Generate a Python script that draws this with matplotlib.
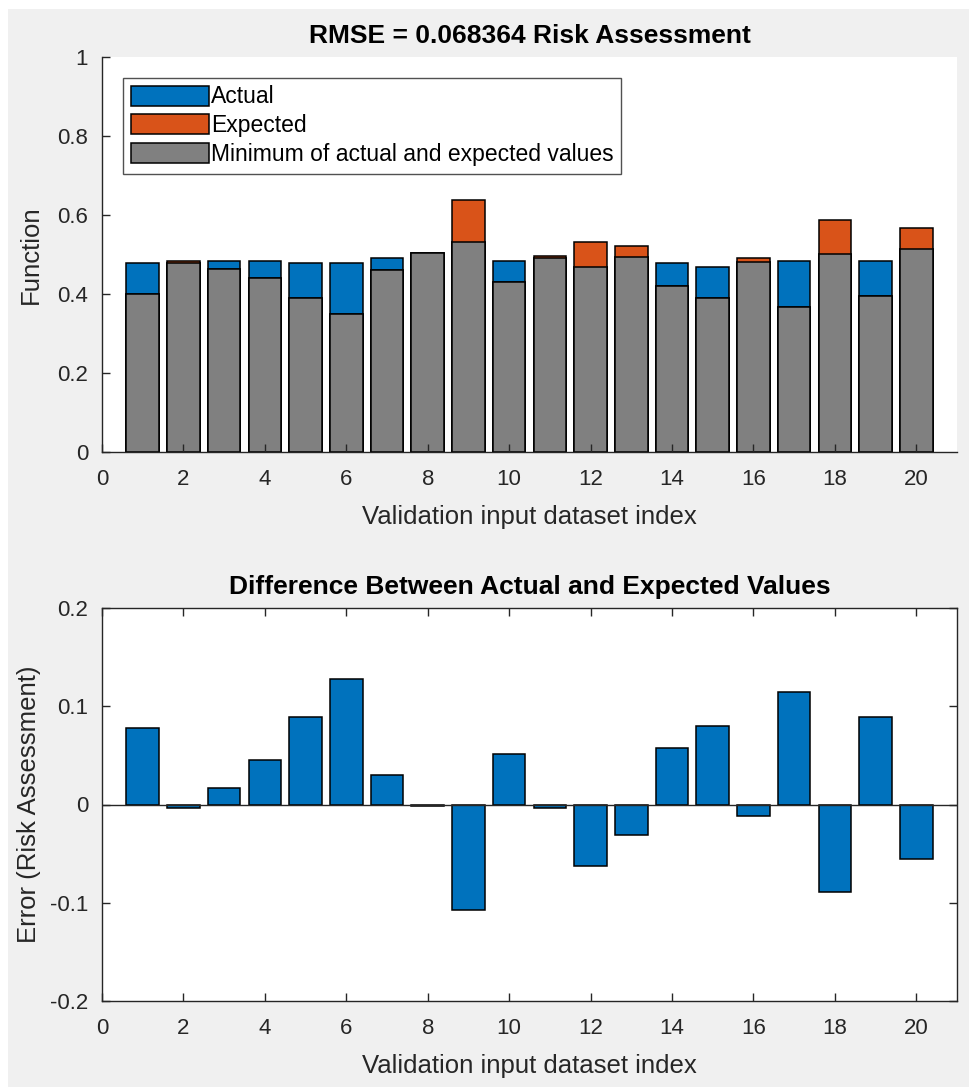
import matplotlib
matplotlib.use("Agg")
import matplotlib.pyplot as plt
from matplotlib.patches import Rectangle
import numpy as np

# ---- data ----
index = list(range(1, 21))
actual = [0.4775, 0.478, 0.4825, 0.4825, 0.4775, 0.4775, 0.491, 0.503, 0.532, 0.4825,
          0.492, 0.4675, 0.494, 0.4775, 0.468, 0.481, 0.4825, 0.500, 0.4825, 0.513]
expected = [0.399, 0.4825, 0.464, 0.440, 0.390, 0.349, 0.460, 0.505, 0.637, 0.431,
            0.495, 0.532, 0.5225, 0.4215, 0.391, 0.491, 0.3675, 0.587, 0.395, 0.5675]
errors = [0.0777, -0.0037, 0.0173, 0.0448, 0.0892, 0.1279, 0.0299, -0.0017, -0.1075, 0.0519,
          -0.0037, -0.0631, -0.0315, 0.0577, 0.0798, -0.0112, 0.1150, -0.0891, 0.0892, -0.0556]
minimum = [min(a, e) for a, e in zip(actual, expected)]

title_top = "RMSE = 0.068364 Risk Assessment"
title_bottom = "Difference Between Actual and Expected Values"
xlabel = "Validation input dataset index"
ylabel_top = "Function"
ylabel_bottom = "Error (Risk Assessment)"
legend_labels = ["Actual", "Expected", "Minimum of actual and expected values"]

BLUE = "#0072BD"
ORANGE = "#D95319"
GRAY = "#808080"
AX = "#262626"
BG = "#f0f0f0"

plt.rcParams["font.family"] = ["Liberation Sans", "DejaVu Sans"]

TICK_FS = 16
LABEL_FS = 18.5
TITLE_FS = 19
LEG_FS = 16.5

W, H = 970, 1087
fig = plt.figure(figsize=(W / 100, H / 100), dpi=100, facecolor="white")
fig.patches.append(Rectangle((8 / W, 0), 1 - 8 / W, 1 - 9 / H, transform=fig.transFigure,
                             facecolor=BG, edgecolor="none", zorder=-10))

def px_axes(left, top, right, bottom):
    return fig.add_axes([left / W, 1 - bottom / H, (right - left) / W, (bottom - top) / H])

def style(ax, box):
    for s in ["left", "bottom", "top", "right"]:
        ax.spines[s].set_color(AX)
        ax.spines[s].set_linewidth(1.0)
    if not box:
        ax.spines["top"].set_visible(False)
        ax.spines["right"].set_visible(False)
    ax.tick_params(direction="in", length=6, width=1.0, color=AX, labelcolor=AX,
                   labelsize=TICK_FS, top=box, right=box)
    ax.tick_params(axis="x", pad=12)
    ax.tick_params(axis="y", pad=10)
    ax.set_xlim(0, 21)
    ax.set_xticks(range(0, 21, 2))
    ax.set_xticklabels([str(v) for v in range(0, 21, 2)])
    ax.set_xlabel(xlabel, fontsize=LABEL_FS, color=AX, labelpad=11)

# ---- top axes ----
ax1 = px_axes(102, 57, 957, 452)
ax1.set_facecolor("white")
b1 = ax1.bar(index, actual, width=0.8, color=BLUE, edgecolor="black", linewidth=1.1)
b2 = ax1.bar(index, expected, width=0.8, color=ORANGE, edgecolor="black", linewidth=1.1)
b3 = ax1.bar(index, minimum, width=0.8, color=GRAY, edgecolor="black", linewidth=1.1)
ax1.set_ylim(0, 1)
yt = [0, 0.2, 0.4, 0.6, 0.8, 1]
ax1.set_yticks(yt)
ax1.set_yticklabels(["0", "0.2", "0.4", "0.6", "0.8", "1"])
style(ax1, box=False)
ax1.set_ylabel(ylabel_top, fontsize=LABEL_FS, color=AX, labelpad=10)
ax1.set_title(title_top, fontsize=TITLE_FS, fontweight="bold", color="black", pad=10)
leg = ax1.legend([b1, b2, b3], legend_labels, loc="upper left",
                 bbox_to_anchor=(0.0246, 0.947), borderaxespad=0, fontsize=LEG_FS,
                 fancybox=False, frameon=True, handlelength=3.4, handleheight=0.95,
                 handletextpad=0.12, labelspacing=0.25, borderpad=0.33)
leg.get_frame().set_edgecolor(AX)
leg.get_frame().set_linewidth(1.0)

# ---- bottom axes ----
ax2 = px_axes(102, 608, 957, 1001)
ax2.set_facecolor("white")
ax2.bar(index, errors, width=0.8, color=BLUE, edgecolor="black", linewidth=1.1, zorder=2)
ax2.axhline(0, color=AX, linewidth=1.0, zorder=3)
ax2.set_ylim(-0.2, 0.2)
ax2.set_yticks([-0.2, -0.1, 0, 0.1, 0.2])
ax2.set_yticklabels(["-0.2", "-0.1", "0", "0.1", "0.2"])
style(ax2, box=True)
ax2.set_ylabel(ylabel_bottom, fontsize=LABEL_FS, color=AX, labelpad=6)
ax2.set_title(title_bottom, fontsize=TITLE_FS, fontweight="bold", color="black", pad=10)

fig.savefig("out.png", dpi=100, facecolor=fig.get_facecolor())
